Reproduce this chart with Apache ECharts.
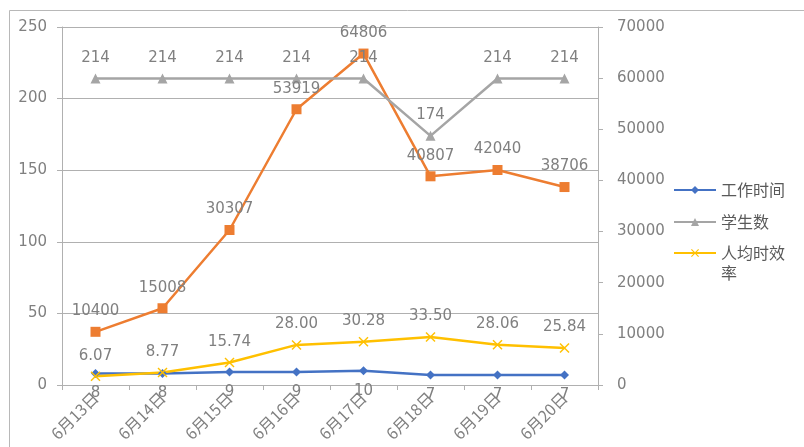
<!DOCTYPE html>
<html>
<head>
<meta charset="utf-8">
<script src="https://cdn.jsdelivr.net/npm/echarts@6/dist/echarts.min.js"></script>
<style>
  html, body { margin: 0; padding: 0; background: #fff; }
  #chart { width: 804px; height: 447px; }
</style>
</head>
<body>
<div id="chart"></div>
<script>
var days = ['6月13日', '6月14日', '6月15日', '6月16日', '6月17日', '6月18日', '6月19日', '6月20日']
var workHours = [8, 8, 9, 9, 10, 7, 7, 7]
var students = [214, 214, 214, 214, 214, 174, 214, 214]
var perHour = [6.07, 8.77, 15.74, 28.00, 30.28, 33.50, 28.06, 25.84]
var total = [10400, 15008, 30307, 53919, 64806, 40807, 42040, 38706]

var font = '"DejaVu Sans", "Noto Sans CJK SC", sans-serif'
var cjkFont = '"Noto Sans CJK SC", sans-serif'
var grey = '#808080'
var lineGrey = '#b0b0b0'
// x 记号
var crossPath = 'path://M0,1L1,0L5,4L9,0L10,1L6,5L10,9L9,10L5,6L1,10L0,9L4,5Z'

function lbl(pos, digits) {
  return {
    show: true,
    position: pos,
    distance: 8,
    color: grey,
    fontSize: 15,
    fontFamily: font,
    formatter: function(p) {
      return digits != null ? p.value.toFixed(digits) : p.value
    }
  }
}

var legendBase = {
  orient: 'vertical',
  left: 668,
  itemWidth: 42,
  itemHeight: 10,
  itemGap: 12,
  textStyle: { color: '#595959', fontSize: 16, fontFamily: cjkFont, lineHeight: 20 }
}

var chart = echarts.init(document.getElementById('chart'))
chart.setOption({
  animation: false,
  backgroundColor: '#fff',
  textStyle: { fontFamily: font },
  graphic: [{
    type: 'rect',
    silent: true,
    shape: { x: 9.5, y: 10.5, width: 1000, height: 1000 },
    style: { fill: 'none', stroke: '#b8b8b8', lineWidth: 1 }
  }],
  grid: { left: 62, right: 206, top: 27, bottom: 62 },
  legend: [
    Object.assign({}, legendBase, { top: 175, data: ['工作时间', '学生数'] }),
    Object.assign({}, legendBase, {
      top: 218,
      data: ['人均时效率'],
      // 第一行对齐图标，"率"换到下一行
      formatter: function(name) { return '\n' + name.slice(0, 4) + '\n' + name.slice(4) }
    })
  ],
  xAxis: {
    type: 'category',
    data: days,
    axisLine: { lineStyle: { color: lineGrey, width: 1 } },
    axisTick: { show: true, length: 5, lineStyle: { color: lineGrey } },
    axisLabel: { rotate: 45, margin: 10, color: grey, fontSize: 16, fontFamily: cjkFont }
  },
  yAxis: [{
    type: 'value',
    min: 0,
    max: 250,
    interval: 50,
    axisLine: { show: true, lineStyle: { color: lineGrey } },
    axisTick: { show: true, length: 5, lineStyle: { color: lineGrey } },
    axisLabel: { margin: 15, color: grey, fontSize: 15, fontFamily: font },
    splitLine: { lineStyle: { color: lineGrey, width: 1 } }
  }, {
    type: 'value',
    min: 0,
    max: 70000,
    interval: 10000,
    axisLine: { show: true, lineStyle: { color: lineGrey } },
    axisTick: { show: true, length: 5, lineStyle: { color: lineGrey } },
    axisLabel: {
      margin: 19, color: grey, fontSize: 15, fontFamily: font,
      formatter: function(v) { return String(v) }
    },
    splitLine: { show: false }
  }],
  series: [{
    name: '总时效',
    type: 'line',
    yAxisIndex: 1,
    data: total,
    color: '#ED7D31',
    symbol: 'rect',
    symbolSize: 10,
    lineStyle: { width: 2.5 },
    label: lbl('top')
  }, {
    name: '工作时间',
    type: 'line',
    data: workHours,
    color: '#4472C4',
    symbol: 'diamond',
    symbolSize: 9,
    lineStyle: { width: 2.5 },
    label: lbl('bottom')
  }, {
    name: '学生数',
    type: 'line',
    data: students,
    color: '#A5A5A5',
    symbol: 'triangle',
    symbolSize: 10,
    lineStyle: { width: 2.5 },
    label: lbl('top')
  }, {
    name: '人均时效率',
    type: 'line',
    data: perHour,
    color: '#FFC000',
    symbol: crossPath,
    symbolSize: 10,
    lineStyle: { width: 2.5 },
    label: lbl('top', 2)
  }]
})
</script>
</body>
</html>
